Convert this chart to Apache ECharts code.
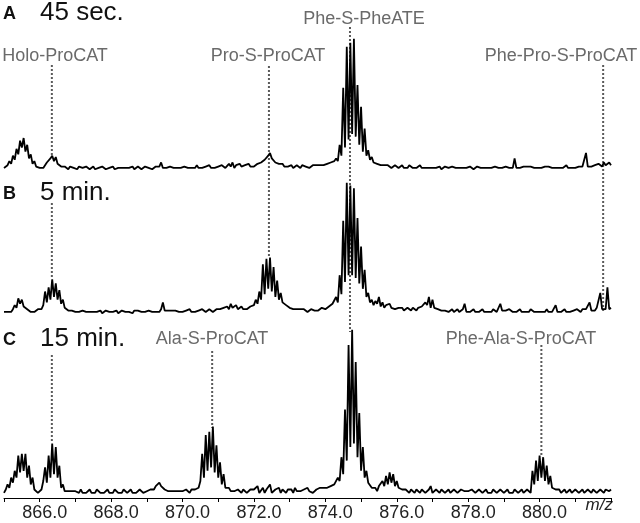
<!DOCTYPE html>
<html>
<head>
<meta charset="utf-8">
<script src="https://cdn.jsdelivr.net/npm/echarts/dist/echarts.min.js"></script>
<style>
  html, body { margin: 0; padding: 0; background: #fff; }
  #chart { width: 640px; height: 523px; }
</style>
</head>
<body>
<div id="chart"></div>
<script>
// m/z grid: 865.00 .. 882.00, one value every 0.05
const mzStart = 865
const mzStep = 0.05

// relative intensity, panel A (45 sec.)
const spectrumA = [
  3,4,5,8,6,12,9,17,13,23,18,25,15,20,10,13,6,8,4,3,
  3,4,3,5,7,6,10,12,8,11,6,7,4,3,4,3,2,4,3,3,
  3,2,4,3,3,2,4,3,2,3,4,2,3,3,2,4,3,2,3,3,
  3,4,2,3,3,2,3,4,3,2,3,3,4,2,3,4,3,2,3,4,
  3,3,4,2,3,4,3,4,7,3,4,3,2,4,3,3,4,3,4,3,
  3,4,3,3,4,3,4,3,5,3,4,3,4,4,3,5,3,4,3,4,
  4,3,5,4,3,4,6,4,7,3,5,4,6,4,3,5,4,6,4,5,
  4,5,6,5,7,6,9,8,12,14,10,11,7,8,6,5,6,4,5,4,
  4,5,3,4,5,4,3,5,4,4,5,3,4,5,4,5,4,5,6,5,
  5,6,5,7,6,8,10,8,20,12,62,18,92,24,95,28,98,26,64,20,
  48,15,32,12,16,9,11,7,8,6,7,5,6,5,4,5,4,3,4,5,
  4,3,4,5,3,4,3,5,4,3,4,3,4,5,3,4,3,4,3,4,
  3,4,3,3,4,2,3,4,3,3,2,4,3,3,4,3,2,3,4,3,
  3,4,3,2,3,4,3,3,4,3,2,3,4,3,3,4,3,3,4,3,
  3,4,3,3,4,3,10,3,4,3,3,4,3,4,3,4,3,3,4,3,
  4,3,3,4,3,4,5,3,4,3,4,3,4,3,4,5,3,4,3,4,
  3,4,4,5,4,4,14,4,5,4,3,5,4,6,5,4,7,5,6,7,
  5
]

// panel B (5 min.)
const spectrumB = [
  3,4,3,4,3,5,8,6,13,9,12,7,8,5,4,3,4,3,4,5,
  4,5,8,18,10,21,12,27,14,24,12,19,9,12,6,5,4,3,4,3,
  3,4,3,2,4,3,3,4,3,2,3,4,3,3,4,2,3,4,3,3,
  4,3,3,4,2,3,4,3,3,4,3,3,2,4,3,4,3,3,4,3,
  3,4,3,3,4,3,4,3,5,10,4,3,4,3,4,3,4,4,3,4,
  3,4,4,3,5,3,4,3,4,4,3,5,4,3,4,5,4,3,4,5,
  4,5,4,6,5,7,5,9,6,5,8,5,6,7,5,6,5,6,7,6,
  8,12,9,18,12,38,16,42,20,43,18,36,14,26,12,17,10,9,8,7,
  6,7,5,6,5,4,5,4,5,4,3,4,5,4,4,5,4,5,6,5,
  5,6,7,6,9,8,14,10,30,16,70,25,98,30,96,30,94,28,72,24,
  51,20,34,14,17,10,12,8,11,9,14,7,10,6,8,7,9,6,7,5,
  5,6,5,6,4,5,6,5,4,6,5,4,6,5,7,6,10,8,14,6,
  12,6,7,5,6,4,5,4,5,3,4,5,3,4,5,3,4,5,9,3,
  4,3,4,5,3,4,3,4,5,3,4,3,4,3,5,4,3,4,9,4,
  3,4,3,5,4,3,4,3,4,5,3,4,3,4,3,5,4,3,4,3,
  4,3,4,3,5,3,4,3,4,8,3,4,3,4,5,3,4,3,4,4,
  4,5,4,3,5,4,5,4,10,4,5,4,6,5,17,5,6,5,21,5,
  6
]

// panel C (15 min.)
const spectrumC = [
  3,5,8,6,12,9,16,12,25,15,26,16,26,12,19,8,12,5,4,3,
  3,5,10,18,9,25,12,32,14,30,12,19,6,8,4,3,4,3,4,3,
  4,3,3,5,3,4,3,4,5,3,4,3,5,4,3,4,3,4,5,3,
  4,3,5,4,3,4,3,5,4,3,4,5,3,4,3,4,5,4,3,4,
  4,3,5,6,5,7,6,9,7,8,5,6,4,3,4,5,4,3,4,5,
  4,3,5,4,3,5,4,5,4,6,10,26,12,37,16,39,18,42,15,31,
  12,21,8,14,6,5,6,4,5,4,3,5,4,3,5,4,3,4,5,4,
  5,4,7,3,4,6,3,5,4,8,3,4,5,4,6,3,5,4,3,5,
  4,5,3,6,4,5,4,3,5,4,6,4,5,3,4,5,4,6,5,6,
  5,6,5,7,6,8,7,12,10,24,14,52,22,90,30,99,32,80,24,50,
  16,30,12,16,9,9,6,5,6,4,7,6,10,7,13,8,15,9,14,7,
  10,6,7,5,4,5,4,3,5,4,3,5,4,3,5,4,3,4,5,7,
  3,4,5,4,3,5,4,3,4,5,3,4,5,4,3,4,5,6,4,5,
  4,3,5,4,3,4,5,4,3,4,5,3,4,3,5,4,3,4,5,4,
  3,4,5,3,4,3,5,4,3,4,5,3,4,5,4,3,16,8,22,10,
  25,12,24,10,19,8,13,6,7,5,4,5,3,4,5,3,4,5,3,4,
  5,4,3,4,5,3,4,5,4,3,5,4,3,4,5,4,3,5,6,4,
  5
]

// dotted guide lines: m/z and vertical extent (page y, top -> bottom)
const guideMz = [866.34, 866.34, 866.34, 872.42, 874.69, 881.78, 870.83, 880.05]
const guideTop = [65, 203, 355, 66, 27, 65, 351, 345]
const guideBottom = [155, 278, 443, 257, 332, 312, 428, 456]

// peak names
const peakNames = ['Holo-ProCAT', 'Pro-S-ProCAT', 'Phe-S-PheATE', 'Phe-Pro-S-ProCAT', 'Ala-S-ProCAT', 'Phe-Ala-S-ProCAT']
const peakNameX = [55, 268, 364, 561, 212, 521]
const peakNameY = [56, 56, 19, 56, 339, 339]

// panels
const panelLetters = ['A', 'B', 'C']
const panelTimes = ['45 sec.', '5 min.', '15 min.']
const panelY = [15, 195, 341]

const font = "'Liberation Sans', Arial, Helvetica, sans-serif"

const chart = echarts.init(document.getElementById('chart'))

const toPoints = vals => vals.map((v, i) => [+(mzStart + i * mzStep).toFixed(2), v])

const grids = [
  { left: 4, right: 29, top: 36, height: 136 },
  { left: 4, right: 29, top: 180, height: 136 },
  { left: 4, right: 29, top: 328, height: 170 },
  { left: 4, right: 29, top: 0, bottom: 0 }
]

const hiddenX = idx => ({
  type: 'value', gridIndex: idx, min: 865, max: 882, show: false
})

const xAxes = [
  hiddenX(0),
  hiddenX(1),
  {
    type: 'value',
    gridIndex: 2,
    min: 865,
    max: 882,
    interval: 1,
    axisLine: { show: true, lineStyle: { color: '#000', width: 1 } },
    axisTick: { show: true, length: 4, lineStyle: { color: '#000' } },
    splitLine: { show: false },
    axisLabel: {
      color: '#222',
      fontSize: 18,
      fontFamily: font,
      margin: 6,
      padding: [0, 0, 0, 10],
      formatter: v => (Math.round(v) % 2 === 0 && v < 882 ? v.toFixed(1) : '')
    }
  },
  hiddenX(3)
]

const yAxes = [
  { type: 'value', gridIndex: 0, min: 0, max: 100, show: false },
  { type: 'value', gridIndex: 1, min: 0, max: 100, show: false },
  { type: 'value', gridIndex: 2, min: 0, max: 100, show: false },
  { type: 'value', gridIndex: 3, min: 0, max: 523, inverse: true, show: false }
]

const spectrumSeries = [spectrumA, spectrumB, spectrumC].map((vals, k) => ({
  type: 'line',
  xAxisIndex: k,
  yAxisIndex: k,
  data: toPoints(vals),
  symbol: 'none',
  z: 3,
  lineStyle: { color: '#000', width: 1.8 }
}))

const guideSeries = guideMz.map((mz, i) => ({
  type: 'line',
  xAxisIndex: 3,
  yAxisIndex: 3,
  data: [[mz, guideTop[i]], [mz, guideBottom[i]]],
  symbol: 'none',
  z: 1,
  lineStyle: { color: '#5a5a5a', width: 2, type: [2, 2] }
}))

const texts = []
panelLetters.forEach((l, k) => {
  texts.push({
    type: 'text', left: 3, top: panelY[k] - 10,
    style: { text: l, font: 'bold 18px ' + font, fill: '#111' }
  })
  texts.push({
    type: 'text', left: 40, top: panelY[k] - 15,
    style: { text: panelTimes[k], font: '26px ' + font, fill: '#111' }
  })
})
peakNames.forEach((name, i) => {
  texts.push({
    type: 'text',
    x: peakNameX[i],
    y: peakNameY[i],
    style: {
      text: name, font: '18px ' + font, fill: '#6a6a6a',
      textAlign: 'center', textVerticalAlign: 'middle'
    }
  })
})
texts.push({
  type: 'text', x: 613, y: 505,
  style: {
    text: 'm/z', font: 'italic 17px ' + font, fill: '#222',
    textAlign: 'right', textVerticalAlign: 'middle'
  }
})

chart.setOption({
  animation: false,
  backgroundColor: '#fff',
  grid: grids,
  xAxis: xAxes,
  yAxis: yAxes,
  series: [...guideSeries, ...spectrumSeries],
  graphic: texts
})

window.addEventListener('resize', () => chart.resize())
</script>
</body>
</html>
